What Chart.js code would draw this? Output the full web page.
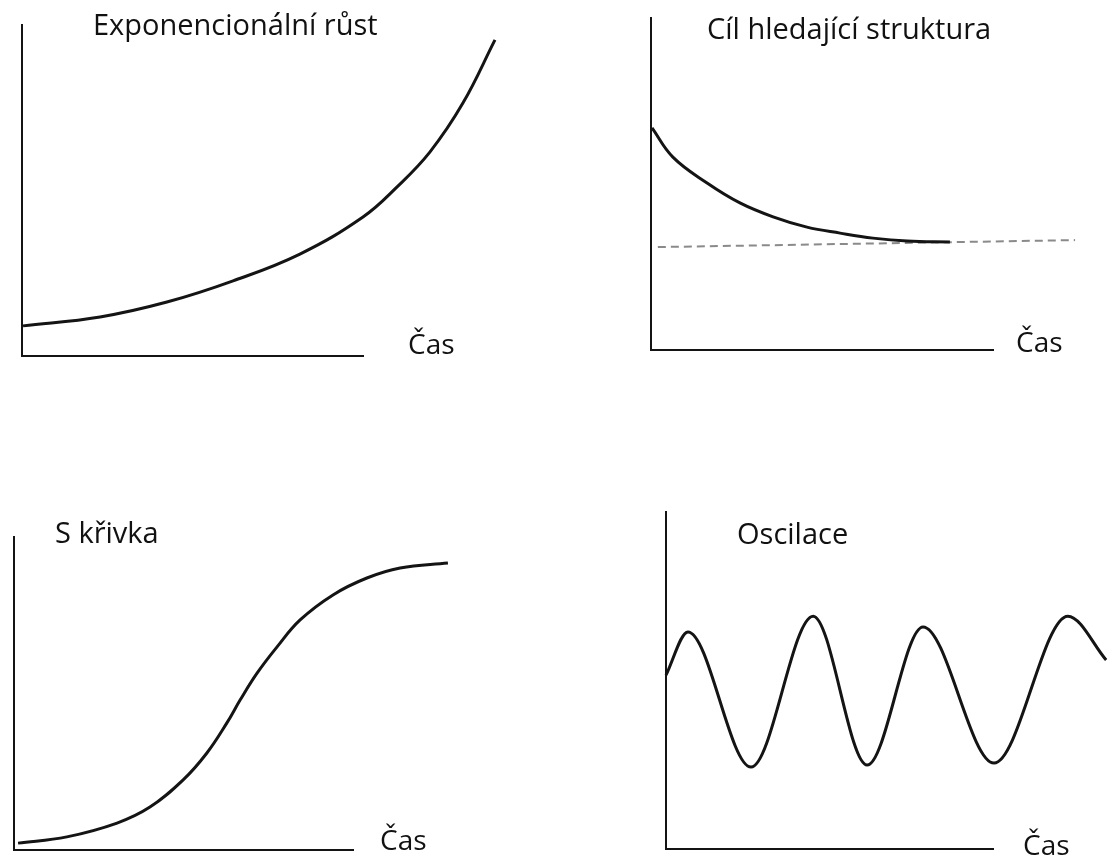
<!DOCTYPE html>
<html lang="cs">
<head>
<meta charset="utf-8">
<title>Typické průběhy chování systémů</title>
<script src="https://cdn.jsdelivr.net/npm/chart.js@4.4.1/dist/chart.umd.min.js"></script>
<style>
  html, body { margin: 0; padding: 0; background: #fff; }
  #wrap { position: relative; width: 1108px; height: 859px; overflow: hidden; }
  #wrap canvas { position: absolute; left: 0; top: 0; }
</style>
</head>
<body>
<div id="wrap">
  <canvas id="expChart" width="1108" height="859"></canvas>
  <canvas id="goalChart" width="1108" height="859"></canvas>
  <canvas id="sChart" width="1108" height="859"></canvas>
  <canvas id="oscChart" width="1108" height="859"></canvas>
</div>
<script>
// Values. Each axis runs 0-100 (time / level),
// curves are allowed to run past the end of the drawn time axis.
const xAxisLabel = 'Čas';
const panelTitles = ['Exponencionální růst', 'Cíl hledající struktura', 'S křivka', 'Oscilace'];

const expTime  = [0.3, 22.9, 42.5, 61.9, 81.5, 100.0, 110.0, 119.6, 129.3, 138.7];
const expValue = [9.1, 11.8, 16.3, 22.7, 30.8, 42.0, 51.1, 61.6, 76.4, 95.5];

const goalTime  = [0.3, 6.4, 16.4, 26.0, 35.7, 45.6, 55.3, 64.9, 74.9, 87.4];
const goalValue = [66.9, 58.1, 50.3, 44.3, 40.1, 37.0, 35.2, 33.7, 32.8, 32.5];
const goalLineTime  = [2, 124];
const goalLineValue = [31.0, 33.1];

const sTime  = [1.2, 15.6, 30.4, 40.1, 49.9, 56.9, 62.8, 66.7, 71.7, 77.6, 84.4, 94.1, 104.1, 113.9, 128.0];
const sValue = [2.2, 4.2, 8.6, 13.7, 22.4, 31.0, 40.6, 47.9, 56.5, 64.9, 73.5, 81.5, 86.9, 90.1, 91.7];

const oscTime  = [0, 6.7, 26.0, 45.0, 61.5, 78.6, 100.3, 122.9, 134.6];
const oscValue = [51.6, 64.4, 24.3, 69.1, 24.9, 65.9, 25.5, 69.1, 56.1];

const PAGE_W = 1108, PAGE_H = 859;
const INK = '#141414';
const TITLE_FONT = '29px "Open Sans", "Noto Sans", sans-serif';
const AXIS_FONT = '28px "Open Sans", "Noto Sans", sans-serif';

function toPoints(xs, ys) {
    return xs.map((x, i) => ({ x: x, y: ys[i] }));
}

// draws the panel caption and the "Čas" label as canvas text
const panelText = {
    id: 'panelText',
    afterDraw(chart, args, opts) {
        const ctx = chart.ctx;
        ctx.save();
        ctx.fillStyle = '#111';
        ctx.textBaseline = 'alphabetic';
        (opts.items || []).forEach(t => {
            ctx.font = t.font;
            ctx.fillText(t.text, t.x, t.y);
        });
        ctx.restore();
    }
};

function curve(xs, ys, smooth) {
    return {
        data: toPoints(xs, ys),
        borderColor: INK,
        borderWidth: 3,
        pointRadius: 0,
        fill: false,
        tension: 0.4,
        cubicInterpolationMode: smooth || 'default',
        capBezierPoints: false,  // curves run past the axes, don't flatten them
        clip: false
    };
}

function axisOptions() {
    return {
        type: 'linear',
        // fix the drawn axis to 0-100 without hiding points beyond it
        afterDataLimits: function(scale) {
            scale.min = 0;
            scale.max = 100;
        },
        ticks: { display: false },
        grid: { display: false, drawTicks: false },
        border: { display: true, color: INK, width: 2 }
    };
}

function makePanel(canvasId, area, datasets, texts) {
    const ctx = document.getElementById(canvasId);
    if (!ctx) {
        console.error('Canvas element not found:', canvasId);
        return;
    }
    new Chart(ctx, {
        type: 'line',
        data: { datasets: datasets },
        options: {
            responsive: false,
            animation: false,
            events: [],
            layout: {
                padding: {
                    left: area.left,
                    top: area.top,
                    right: PAGE_W - area.right,
                    bottom: PAGE_H - area.bottom
                }
            },
            plugins: {
                legend: { display: false },
                tooltip: { enabled: false },
                panelText: { items: texts }
            },
            scales: { x: axisOptions(), y: axisOptions() }
        },
        plugins: [panelText]
    });
}

// Exponencionální růst
makePanel('expChart', { left: 22, top: 25, right: 363, bottom: 356 },
    [curve(expTime, expValue)],
    [{ text: panelTitles[0], x: 93, y: 35, font: TITLE_FONT },
     { text: xAxisLabel, x: 408, y: 354, font: AXIS_FONT }]);

// Cíl hledající struktura
const goalDash = curve(goalLineTime, goalLineValue);
goalDash.borderColor = '#8a8a8a';
goalDash.borderWidth = 2;
goalDash.borderDash = [8, 5];
goalDash.tension = 0;
makePanel('goalChart', { left: 651, top: 18, right: 993, bottom: 350 },
    [curve(goalTime, goalValue), goalDash],
    [{ text: panelTitles[1], x: 707, y: 39, font: TITLE_FONT },
     { text: xAxisLabel, x: 1016, y: 352, font: AXIS_FONT }]);

// S křivka
makePanel('sChart', { left: 14, top: 537, right: 353, bottom: 850 },
    [curve(sTime, sValue)],
    [{ text: panelTitles[2], x: 55, y: 543, font: TITLE_FONT },
     { text: xAxisLabel, x: 380, y: 850, font: AXIS_FONT }]);

// Oscilace
makePanel('oscChart', { left: 666, top: 512, right: 993, bottom: 849 },
    [curve(oscTime, oscValue, 'monotone')],
    [{ text: panelTitles[3], x: 737, y: 544, font: TITLE_FONT },
     { text: xAxisLabel, x: 1023, y: 855, font: AXIS_FONT }]);
</script>
</body>
</html>
